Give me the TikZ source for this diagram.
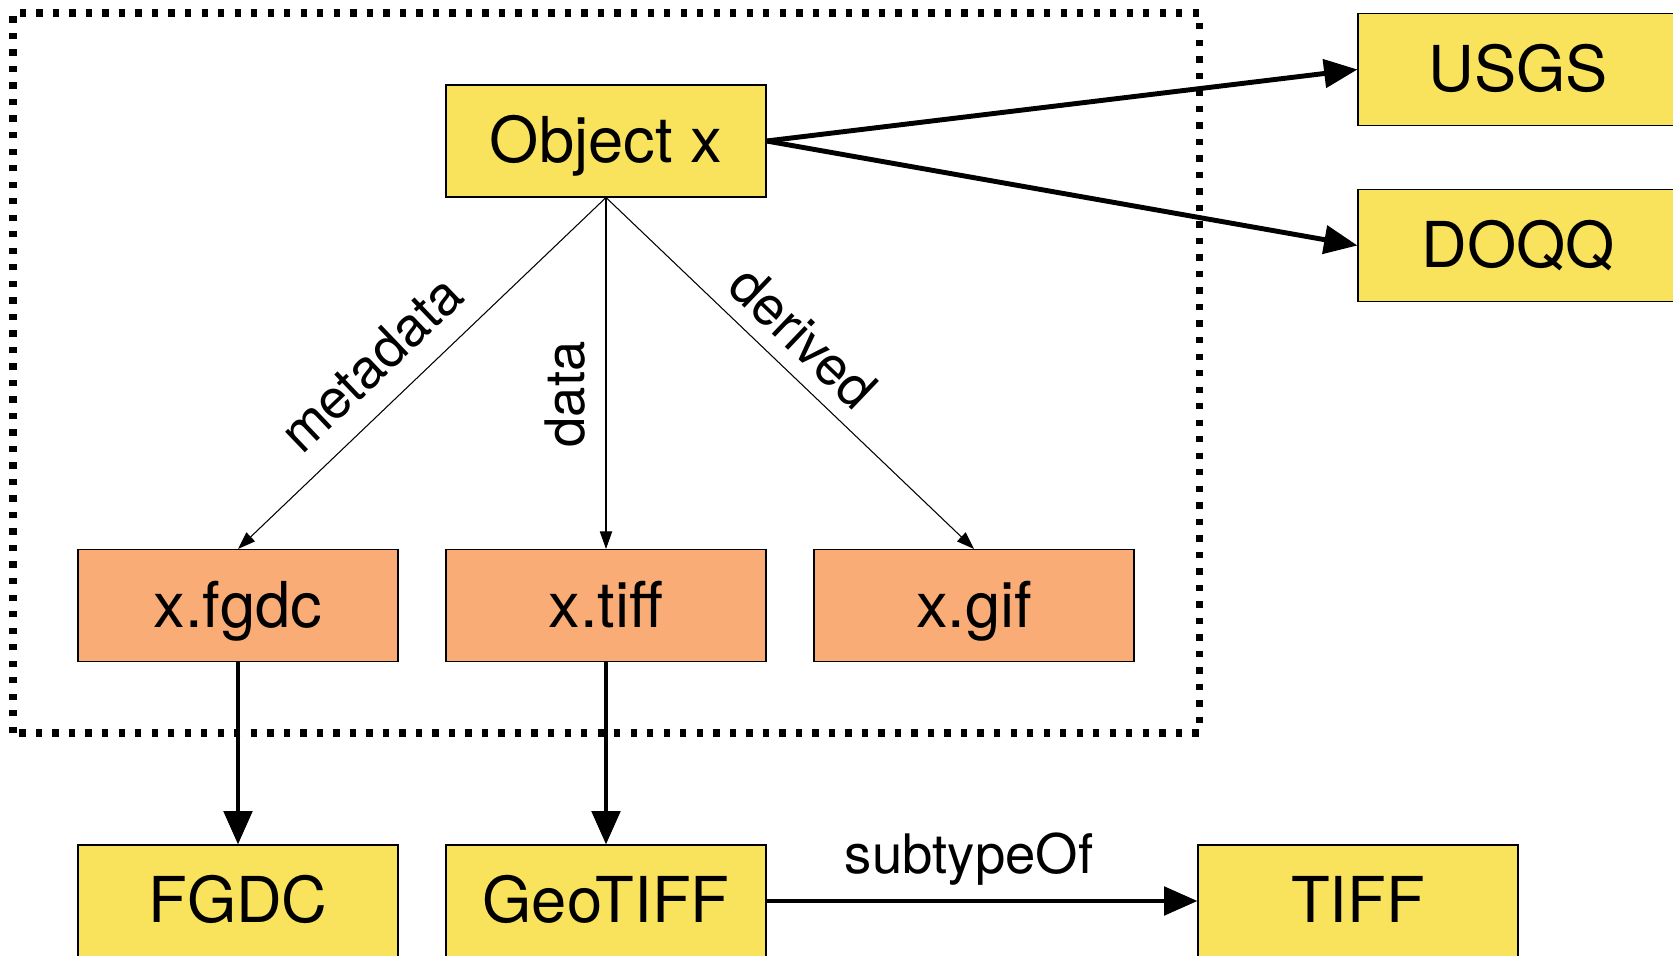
\documentclass[tikz,border=0pt]{standalone}
\usepackage{fontspec}
\setmainfont{TeX Gyre Heros}
\usetikzlibrary{arrows.meta}
\definecolor{boxyellow}{RGB}{249,226,92}
\definecolor{boxorange}{RGB}{249,172,118}
\tikzset{
	thing/.style={draw=black, line width=0.6pt, fill=boxyellow, minimum width=6.4cm, minimum height=2.24cm, inner sep=0pt, text height=25pt, text depth=0pt, font=\fontsize{36}{40}\selectfont},
	file/.style={thing, fill=boxorange},
	fat/.style={line width=2.8pt, -{Triangle[length=19pt,width=16pt]}},
	slim/.style={line width=0.6pt, -{Triangle[length=10pt,width=7pt]}},
	lbl/.style={font=\fontsize{31}{34}\selectfont}
}

\begin{document}
\begin{tikzpicture}
		%%%%% START %%%%%
		\useasboundingbox (0, 0) rectangle (33.46, 19.1);
		
		\draw[line width=4pt, dash pattern=on 3.6pt off 5.8pt] (0.26, 4.44) rectangle (23.98, 18.84);
		
		\node[thing] (objx) at (12.12, 16.28) {Object x};
		\node[thing] (usgs) at (30.36, 17.71) {USGS};
		\node[thing] (doqq) at (30.36, 14.19) {DOQQ};
		
		\node[file] (xfgdc) at (4.76, 6.99) {x.fgdc};
		\node[file] (xtiff) at (12.12, 6.99) {x.tiff};
		\node[file] (xgif) at (19.48, 6.99) {x.gif};
		
		\node[thing] (fgdc) at (4.76, 1.08) {FGDC};
		\node[thing] (geotiff) at (12.12, 1.08) {GeoTIFF};
		\node[thing] (tiff) at (27.16, 1.08) {TIFF};
		
		\draw[fat] (objx.east) -- (usgs.west);
		\draw[fat] (objx.east) -- (doqq.west);
		
		\draw[slim] (objx.south) -- node[lbl, sloped, above, pos=0.56, yshift=9pt] {metadata} (xfgdc.north);
		\draw[slim] (objx.south) -- node[lbl, rotate=90, anchor=south, pos=0.56, yshift=8pt] {data} (xtiff.north);
		\draw[slim] (objx.south) -- node[lbl, sloped, above, pos=0.47, yshift=5pt] {derived} (xgif.north);
		
		\draw[fat] (xfgdc.south) -- (fgdc.north);
		\draw[fat] (xtiff.south) -- (geotiff.north);
		\draw[fat] (geotiff.east) -- node[lbl, above, pos=0.47, yshift=4pt] {subtypeOf} (tiff.west);
		%%%%% END %%%%%
	\end{tikzpicture}
\end{document}
